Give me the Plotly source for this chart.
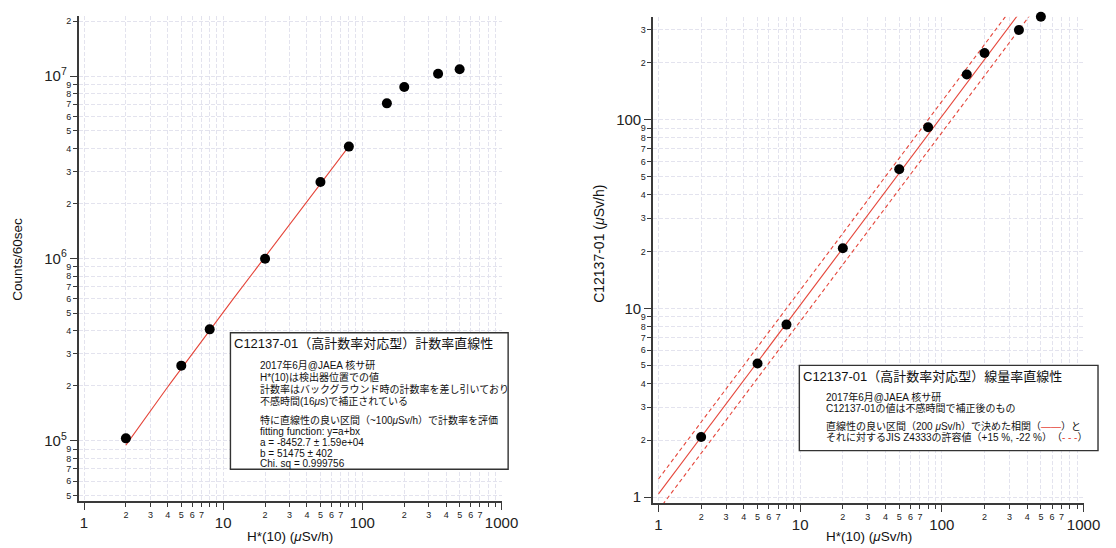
import numpy as np
import plotly.graph_objects as go

# ---------------- data ----------------
h10 = [2, 5, 8, 20, 50, 80, 150, 200, 350, 500]                      # H*(10) (uSv/h)
counts_60s = [1.03e5, 2.58e5, 4.08e5, 9.95e5, 2.62e6, 4.10e6,
              7.08e6, 8.71e6, 1.03e7, 1.09e7]                         # Counts/60sec
dose_c12137 = [2.08, 5.1, 8.2, 20.8, 54.5, 91, 173, 225, 298, 350]   # C12137-01 (uSv/h)

fit_a = -8452.7          # y = a + b x (left panel fit)
fit_b = 51475.0
fit_x_range = [2, 80]

corr_slope = 1.04        # right panel correlation (solid)
tol_upper = 1.20         # JIS Z4333 tolerance band (dashed)
tol_lower = 0.82
corr_x_range = [1, 1000]

# tick labels
decades_x = [1, 10, 100, 1000]
decade_x_text = ["1", "10", "100", "1000"]
minor_digits_x = ["2", "3", "4", "5", "6", "7", "", ""]
x_tick_vals = [m * d for d in [1, 10, 100] for m in range(1, 10)] + [1000]
x_tick_text = [("" if m == 1 else minor_digits_x[m - 2]) for d in [1, 10, 100] for m in range(1, 10)] + [""]

ly_tick_vals = [m * 1e4 for m in range(5, 10)] + [m * d for d in [1e5, 1e6] for m in range(1, 10)] + [1e7, 2e7]
ly_tick_text = [str(m) for m in range(5, 10)] + [("" if m == 1 else str(m)) for d in [1e5, 1e6] for m in range(1, 10)] + ["", "2"]
ly_decades = [1e5, 1e6, 1e7]
ly_decade_text = ["10<sup>5</sup>", "10<sup>6</sup>", "10<sup>7</sup>"]

ry_tick_vals = [m * d for d in [1, 10] for m in range(1, 10)] + [100, 200, 300]
ry_tick_text = [("" if m == 1 else str(m)) for d in [1, 10] for m in range(1, 10)] + ["", "2", "3"]
ry_decades = [1, 10, 100]
ry_decade_text = ["1", "10", "100"]

# ---------------- layout helpers ----------------
W, H = 1116, 548
def fx(p): return p / W
def fy(p): return 1 - p / H

FONT = "Liberation Sans, Arial, Noto Sans CJK JP, sans-serif"
RED = "#e5463b"
GRID = "#e3e3ee"
AX = "#3a3a3a"

fig = go.Figure()

# left panel
xf = np.geomspace(fit_x_range[0], fit_x_range[1], 60)
fig.add_trace(go.Scatter(x=xf, y=fit_a + fit_b * xf, mode="lines",
                         line=dict(color=RED, width=1.1), xaxis="x", yaxis="y",
                         showlegend=False, hoverinfo="skip"))
fig.add_trace(go.Scatter(x=h10, y=counts_60s, mode="markers",
                         marker=dict(color="black", size=10), cliponaxis=False,
                         xaxis="x", yaxis="y", showlegend=False))

# right panel
xc = np.geomspace(corr_x_range[0], corr_x_range[1], 60)
for fac, dash in [(1.0, "solid"), (tol_upper, "4px,3px"), (tol_lower, "4px,3px")]:
    fig.add_trace(go.Scatter(x=xc, y=corr_slope * fac * xc, mode="lines",
                             line=dict(color=RED, width=1.1, dash=dash),
                             xaxis="x2", yaxis="y2", showlegend=False, hoverinfo="skip"))
fig.add_trace(go.Scatter(x=h10, y=dose_c12137, mode="markers",
                         marker=dict(color="black", size=10), cliponaxis=False,
                         xaxis="x2", yaxis="y2", showlegend=False))

# invisible anchor traces for the overlay (decade) axes
fig.add_trace(go.Scatter(x=[10], y=[1e6], mode="markers", marker=dict(opacity=0),
                         xaxis="x3", yaxis="y", showlegend=False, hoverinfo="skip"))
fig.add_trace(go.Scatter(x=[10], y=[1e6], mode="markers", marker=dict(opacity=0),
                         xaxis="x", yaxis="y3", showlegend=False, hoverinfo="skip"))
fig.add_trace(go.Scatter(x=[10], y=[10], mode="markers", marker=dict(opacity=0),
                         xaxis="x4", yaxis="y2", showlegend=False, hoverinfo="skip"))
fig.add_trace(go.Scatter(x=[10], y=[10], mode="markers", marker=dict(opacity=0),
                         xaxis="x2", yaxis="y4", showlegend=False, hoverinfo="skip"))

LX = [80, 509.3]; LY = [16, 503.3]
RX = [663.3, 1100.3]; RY = [16.7, 505]
xr = [-0.0375, 3.0]
lyr = [4.6667, 7.3295]
ryr = [-0.032, 2.545]

minor_common = dict(type="log", showline=True, linecolor=AX, linewidth=1.5,
                    ticks="outside", ticklen=4, tickwidth=1, tickcolor=AX,
                    tickfont=dict(family=FONT, size=9, color="#222"),
                    showgrid=True, gridcolor=GRID, gridwidth=1, griddash="4px,2px",
                    zeroline=False, tickmode="array", autorange=False)
major_common = dict(type="log", showline=False, ticks="outside", ticklen=8,
                    tickwidth=1.2, tickcolor=AX,
                    tickfont=dict(family=FONT, size=15, color="#222"),
                    showgrid=False, zeroline=False, tickmode="array", autorange=False)

fig.update_layout(
    width=W, height=H, margin=dict(l=0, r=0, t=0, b=0), autosize=False,
    paper_bgcolor="white", plot_bgcolor="white",
    xaxis=dict(**minor_common, domain=[fx(LX[0]), fx(LX[1])], range=xr, anchor="y",
               tickvals=x_tick_vals, ticktext=x_tick_text),
    yaxis=dict(**minor_common, domain=[fy(LY[1]), fy(LY[0])], range=lyr, anchor="x",
               tickvals=ly_tick_vals, ticktext=ly_tick_text),
    xaxis2=dict(**minor_common, domain=[fx(RX[0]), fx(RX[1])], range=xr, anchor="y2",
                tickvals=x_tick_vals, ticktext=x_tick_text),
    yaxis2=dict(**minor_common, domain=[fy(RY[1]), fy(RY[0])], range=ryr, anchor="x2",
                tickvals=ry_tick_vals, ticktext=ry_tick_text),
    xaxis3=dict(**major_common, overlaying="x", anchor="y", side="bottom", range=xr,
                tickvals=decades_x, ticktext=decade_x_text),
    yaxis3=dict(**major_common, overlaying="y", anchor="x", side="left", range=lyr,
                tickvals=ly_decades, ticktext=ly_decade_text),
    xaxis4=dict(**major_common, overlaying="x2", anchor="y2", side="bottom", range=xr,
                tickvals=decades_x, ticktext=decade_x_text),
    yaxis4=dict(**major_common, overlaying="y2", anchor="x2", side="left", range=ryr,
                tickvals=ry_decades, ticktext=ry_decade_text),
)

# ---------------- text boxes ----------------
shapes = []
annotations = []

def ann(x, y, text, size, xanchor="left", angle=0):
    annotations.append(dict(xref="paper", yref="paper", x=fx(x), y=fy(y), text=text,
                            showarrow=False, xanchor=xanchor, yanchor="middle",
                            textangle=angle, align="left",
                            font=dict(family=FONT, size=size, color="#111")))

def box(x0, y0, x1, y1):
    shapes.append(dict(type="rect", xref="paper", yref="paper",
                       x0=fx(x0), x1=fx(x1), y0=fy(y1), y1=fy(y0),
                       line=dict(color="#333", width=1.4), fillcolor="white", layer="above"))

# left box
box(234, 334, 516, 471)
ann(236, 345, "C12137-01（高計数率対応型）計数率直線性", 13)
left_lines = [
    (366, "2017年6月@JAEA 核サ研"),
    (378.7, "H*(10)は検出器位置での値"),
    (390.5, "計数率はバックグラウンド時の計数率を差し引いており"),
    (402.3, "不感時間(16<i>μ</i>s)で補正されている"),
    (421.7, "特に直線性の良い区間（~100<i>μ</i>Sv/h）で計数率を評価"),
    (433.3, "fitting function: y=a+bx"),
    (444.3, "a = -8452.7 ± 1.59e+04"),
    (454.8, "b = 51475 ± 402"),
    (465.3, "Chi. sq = 0.999756"),
]
for y, t in left_lines:
    ann(262, y, t, 10)

# right box
box(811.7, 366.7, 1115, 452.3)
ann(813, 378, "C12137-01（高計数率対応型）線量率直線性", 13)
right_lines = [
    (398, "2017年6月@JAEA 核サ研"),
    (409.5, "C12137-01の値は不感時間で補正後のもの"),
    (427.5, "直線性の良い区間（200 <i>μ</i>Sv/h）で決めた相関（<span style='color:%s'>——</span>）と" % RED),
    (439, "それに対するJIS Z4333の許容値（+15 %%, -22 %%）　（<span style='color:%s'>- - -</span>）" % RED),
]
for y, t in right_lines:
    ann(837, y, t, 10)

# axis titles
ann(294.5, 538, "H*(10) (<i>μ</i>Sv/h)", 13.5, xanchor="center")
ann(882, 538, "H*(10) (<i>μ</i>Sv/h)", 13.5, xanchor="center")
ann(17, 260, "Counts/60sec", 13.5, xanchor="center", angle=-90)
ann(608, 245, "C12137-01 (<i>μ</i>Sv/h)", 14, xanchor="center", angle=-90)

fig.update_layout(shapes=shapes, annotations=annotations)
fig.write_html("out.html")
